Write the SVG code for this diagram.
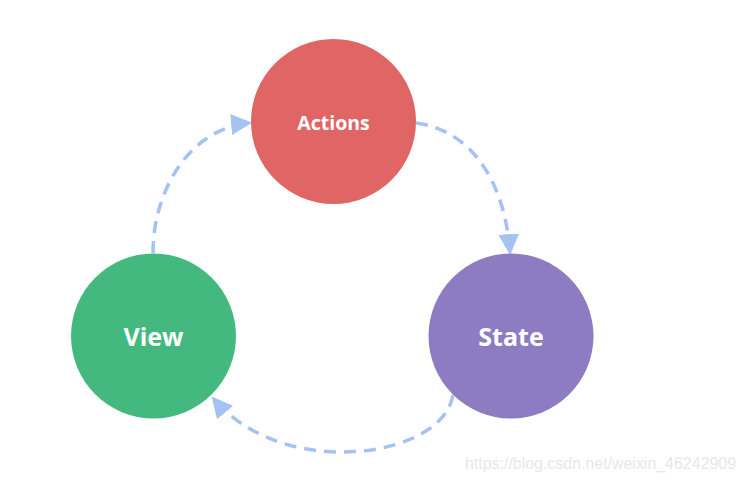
<svg xmlns="http://www.w3.org/2000/svg" width="745" height="482" viewBox="0 0 745 482">
<style>
.lbl{font-family:"Open Sans","Noto Sans",sans-serif;font-weight:bold;fill:#fff;text-anchor:middle}
.conn{fill:none;stroke:#a4c2f4;stroke-width:3.5;stroke-dasharray:12 8}
</style>
<defs>
<marker id="ah" viewBox="0 0 10 10" refX="9" refY="5" markerWidth="6" markerHeight="6" markerUnits="strokeWidth" orient="auto">
<path d="M0,0 L10,5 L0,10 z" fill="#a4c2f4"/>
</marker>
</defs>
<rect width="745" height="482" fill="#fff"/>
<g id="connectors">
<path class="conn" d="M153,253 C153,190 190,128 250,123" marker-end="url(#ah)"/>
<path class="conn" d="M416,123 C470,130 505,180 510,253" marker-end="url(#ah)"/>
<path class="conn" d="M453,395 C443,458 283,482 213,398" marker-end="url(#ah)"/>
</g>
<g id="actions">
<circle cx="333.5" cy="121.5" r="82.5" fill="#e06666"/>
<text class="lbl" x="333.5" y="130" font-size="19.5">Actions</text>
</g>
<g id="view">
<circle cx="153.5" cy="336" r="82.5" fill="#44b97f"/>
<text class="lbl" x="153.5" y="346" font-size="25">View</text>
</g>
<g id="state">
<circle cx="511" cy="336" r="82.5" fill="#8e7cc3"/>
<text class="lbl" x="511" y="346" font-size="25">State</text>
</g>
<text x="465" y="469" font-family="Liberation Sans,Arial,sans-serif" font-size="16" textLength="271" lengthAdjust="spacingAndGlyphs" fill="#e8e8e8">https://blog.csdn.net/weixin_46242909</text>
</svg>
